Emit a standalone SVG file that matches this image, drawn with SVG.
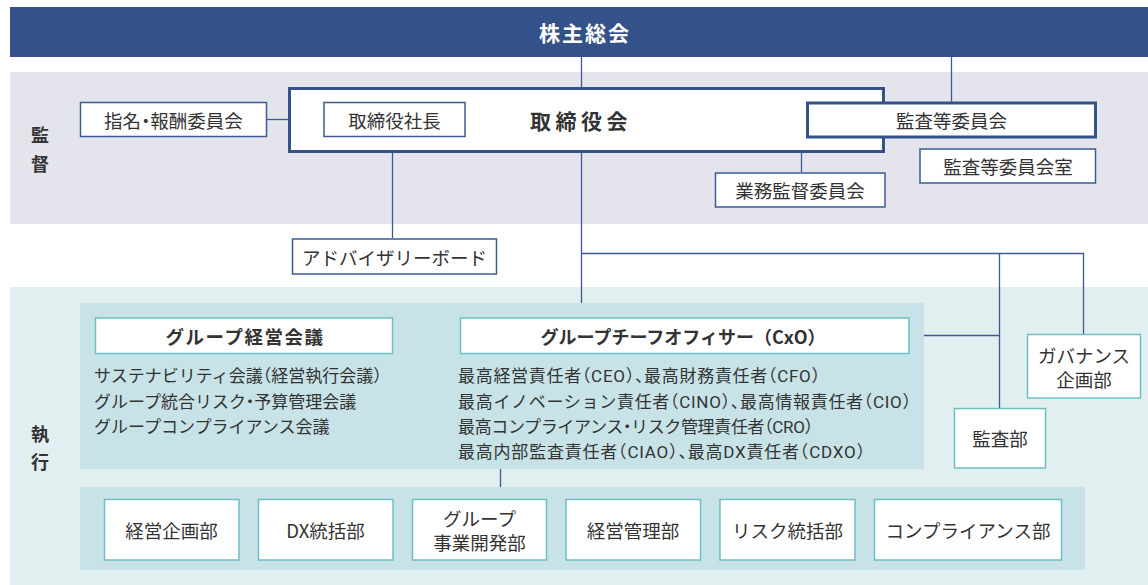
<svg xmlns="http://www.w3.org/2000/svg" width="1148" height="585" viewBox="0 0 1148 585">
<defs>
<style>
text{font-family:"Noto Sans CJK JP","Noto Sans",sans-serif;fill:#333;dominant-baseline:central}
.lbl{font-size:18.5px;text-anchor:middle;font-feature-settings:"halt"}
.lst{font-size:17px;font-feature-settings:"halt";font-family:Roboto,"Noto Sans CJK JP",sans-serif}
.bold{font-weight:bold}
.side{font-weight:bold;font-size:18px;text-anchor:middle}
.nb{fill:#fff;stroke:#3C5B93;stroke-width:1.5}
.nbt{fill:#fff;stroke:#33528A;stroke-width:3}
.tb{fill:#fff;stroke:#6BBFC6;stroke-width:1.5}
.ln{stroke:#3C5B93;stroke-width:1.3;fill:none}
</style>
</defs>
<rect x="0" y="0" width="1148" height="585" fill="#fff"/>
<!-- bands -->
<rect x="10" y="7" width="1138" height="50" fill="#33528A"/>
<rect x="10" y="72" width="1138" height="152" fill="#E3E4EC"/>
<rect x="10" y="287" width="1138" height="298" fill="#E1EFF1"/>
<rect x="80" y="303" width="844" height="166" fill="#C8E3E7"/>
<rect x="80" y="487" width="1005" height="83" fill="#C8E3E7"/>
<text x="585" y="32" class="bold" style="fill:#fff;font-size:21px;text-anchor:middle;letter-spacing:2px">株主総会</text>
<g id="label-kansa"><text x="40" y="134" class="side">監</text><text x="40" y="163" class="side">督</text></g>
<g id="label-shikko"><text x="40" y="433" class="side">執</text><text x="40" y="461" class="side">行</text></g>
<!-- connectors -->
<g id="connectors">
<line class="ln" x1="581.5" y1="57" x2="581.5" y2="88"/>
<line class="ln" x1="581.5" y1="152" x2="581.5" y2="303"/>
<line class="ln" x1="951.5" y1="57" x2="951.5" y2="102"/>
<line class="ln" x1="267" y1="119.5" x2="289" y2="119.5"/>
<line class="ln" x1="392.5" y1="137" x2="392.5" y2="238"/>
<line class="ln" x1="801.5" y1="152" x2="801.5" y2="172"/>
<polyline class="ln" points="581.5,253.5 1083.5,253.5 1083.5,334"/>
<line class="ln" x1="999.5" y1="253.5" x2="999.5" y2="408"/>
<line class="ln" x1="924" y1="335.5" x2="999.5" y2="335.5"/>
<line class="ln" x1="500.5" y1="469" x2="500.5" y2="487"/>
</g>
<!-- nodes -->
<g id="torishimariyakukai"><rect class="nbt" x="289.5" y="88.5" width="594" height="63"/><text x="581" y="120" class="bold" style="font-size:21px;text-anchor:middle;letter-spacing:4.5px">取締役会</text></g>
<g id="shimei"><rect class="nb" x="80.5" y="102.5" width="186" height="34"/><text x="173.5" y="120" class="lbl">指名・報酬委員会</text></g>
<g id="shacho"><rect class="nb" x="324" y="102.5" width="141" height="34"/><text x="394.5" y="120" class="lbl">取締役社長</text></g>
<g id="kansatou"><rect class="nbt" x="807.5" y="103" width="288" height="34"/><text x="951.5" y="120" class="lbl">監査等委員会</text></g>
<g id="kansatoushitsu"><rect class="nb" x="920" y="149" width="175.5" height="34"/><text x="1008" y="166" class="lbl">監査等委員会室</text></g>
<g id="gyomu"><rect class="nb" x="715.5" y="173" width="169.5" height="34"/><text x="800" y="190" class="lbl">業務監督委員会</text></g>
<g id="advisory"><rect class="nb" x="292.5" y="239" width="204" height="35"/><text x="394.5" y="256.5" class="lbl">アドバイザリーボード</text></g>
<g id="group-keiei"><rect class="tb" x="95.5" y="318" width="297" height="35.5"/><text x="245" y="335.5" class="bold" style="font-size:18.5px;text-anchor:middle;letter-spacing:1.5px">グループ経営会議</text>
<text x="94" y="376" class="lst">サステナビリティ会議（経営執行会議）</text>
<text x="94" y="401.5" class="lst">グループ統合リスク・予算管理会議</text>
<text x="94" y="427" class="lst">グループコンプライアンス会議</text></g>
<g id="cxo"><rect class="tb" x="460.5" y="318" width="448.5" height="35.5"/><text x="683" y="335.5" class="bold" style="font-size:18px;text-anchor:middle">グループチーフオフィサー（CxO）</text>
<text x="458" y="376" class="lst" textLength="362" lengthAdjust="spacing">最高経営責任者（CEO）、最高財務責任者（CFO）</text>
<text x="458" y="401.5" class="lst" textLength="453" lengthAdjust="spacing">最高イノベーション責任者（CINO）、最高情報責任者（CIO）</text>
<text x="458" y="427" class="lst" textLength="355" lengthAdjust="spacing">最高コンプライアンス・リスク管理責任者（CRO）</text>
<text x="458" y="451.5" class="lst" textLength="407" lengthAdjust="spacing">最高内部監査責任者（CIAO）、最高DX責任者（CDXO）</text></g>
<g id="governance"><rect class="tb" x="1027.5" y="334.5" width="113" height="63.5"/><text x="1084" y="355" class="lbl">ガバナンス</text><text x="1084" y="379" class="lbl">企画部</text></g>
<g id="kansabu"><rect class="tb" x="954.5" y="408.5" width="91" height="59.5"/><text x="1000" y="438" class="lbl">監査部</text></g>
<g id="keiei-kikaku"><rect class="tb" x="104.5" y="499.5" width="134.5" height="60.5"/><text x="171.5" y="529.5" class="lbl">経営企画部</text></g>
<g id="dx"><rect class="tb" x="258.5" y="499.5" width="134.5" height="60.5"/><text x="325.5" y="529.5" class="lbl">DX統括部</text></g>
<g id="jigyo"><rect class="tb" x="412.5" y="499.5" width="134" height="60.5"/><text x="479.5" y="518" class="lbl">グループ</text><text x="479.5" y="542" class="lbl">事業開発部</text></g>
<g id="keiei-kanri"><rect class="tb" x="566" y="499.5" width="134.5" height="60.5"/><text x="633" y="529.5" class="lbl">経営管理部</text></g>
<g id="risk"><rect class="tb" x="720" y="499.5" width="135" height="60.5"/><text x="787.5" y="529.5" class="lbl">リスク統括部</text></g>
<g id="compliance"><rect class="tb" x="874.5" y="499.5" width="187" height="60.5"/><text x="968" y="529.5" class="lbl">コンプライアンス部</text></g>
</svg>
